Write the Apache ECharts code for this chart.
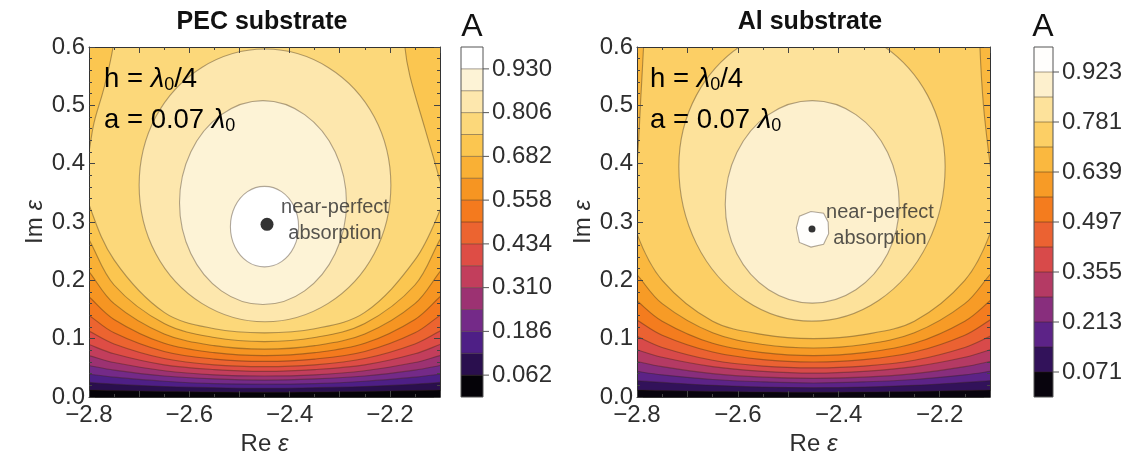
<!DOCTYPE html>
<html><head><meta charset="utf-8">
<script src="https://cdn.jsdelivr.net/npm/echarts@6/dist/echarts.min.js"></script>
<style>html,body{margin:0;padding:0;background:#fff}#c{width:1132px;height:463px}</style>
</head><body><div id="c"></div>
<script>
// ---------------- data ----------------
const reRange = [-2.8, -2.1];
const imRange = [0, 0.6];
const titles = ['PEC substrate', 'Al substrate'];

// contour levels (colour-bar boundaries)
const pecLevels = [0.062,0.124,0.186,0.248,0.310,0.372,0.434,0.496,0.558,0.620,0.682,0.744,0.806,0.868,0.930];
const pecMax = 0.992;
const alLevels = [0.071,0.142,0.213,0.284,0.355,0.426,0.497,0.568,0.639,0.710,0.781,0.852,0.923];
const alMax = 0.994;

// lower (open) contour branches: Im eps at these Re eps positions
const lowX = [-2.86,-2.8,-2.75,-2.65,-2.55,-2.45,-2.35,-2.25,-2.15,-2.1,-2.04];
const pecLowY = [
  [0.014,0.012,0.011,0.0095,0.0085,0.008,0.0085,0.0095,0.011,0.012,0.014],
  [0.029,0.025,0.022,0.018,0.016,0.015,0.016,0.018,0.022,0.025,0.029],
  [0.046,0.039,0.034,0.027,0.023,0.022,0.023,0.027,0.034,0.039,0.046],
  [0.064,0.054,0.046,0.036,0.031,0.029,0.031,0.036,0.046,0.054,0.064],
  [0.085,0.071,0.059,0.045,0.038,0.036,0.038,0.045,0.059,0.071,0.085],
  [0.110,0.090,0.074,0.055,0.047,0.044,0.047,0.055,0.074,0.090,0.110],
  [0.140,0.113,0.091,0.066,0.055,0.052,0.055,0.066,0.091,0.113,0.140],
  [0.175,0.140,0.110,0.078,0.065,0.061,0.065,0.078,0.110,0.140,0.175],
  [0.220,0.172,0.133,0.092,0.076,0.071,0.076,0.092,0.133,0.172,0.220],
  [0.280,0.215,0.160,0.108,0.088,0.082,0.088,0.108,0.160,0.215,0.280],
  [0.360,0.270,0.192,0.126,0.102,0.095,0.102,0.126,0.192,0.270,0.360]
];
const alLowY = [
  [0.014,0.012,0.011,0.0095,0.0085,0.008,0.0085,0.0095,0.011,0.012,0.014],
  [0.033,0.028,0.025,0.020,0.017,0.016,0.017,0.020,0.025,0.028,0.033],
  [0.052,0.044,0.038,0.030,0.026,0.024,0.026,0.030,0.038,0.044,0.052],
  [0.073,0.061,0.052,0.040,0.034,0.032,0.034,0.040,0.052,0.061,0.073],
  [0.098,0.081,0.068,0.052,0.044,0.041,0.044,0.052,0.068,0.081,0.098],
  [0.128,0.104,0.085,0.063,0.053,0.050,0.053,0.063,0.085,0.104,0.128],
  [0.165,0.132,0.106,0.077,0.064,0.060,0.064,0.077,0.106,0.132,0.165],
  [0.210,0.165,0.130,0.092,0.076,0.071,0.076,0.092,0.130,0.165,0.210],
  [0.270,0.210,0.160,0.110,0.090,0.084,0.090,0.110,0.160,0.210,0.270]
];

// upper (closed or partly closed) contours, traced as [Re eps, Im eps]
const pec744 = [[-2.75,0.64],[-2.752,0.6],[-2.77,0.53],[-2.79,0.47],[-2.80,0.42],[-2.81,0.375],[-2.80,0.33],[-2.75,0.235],[-2.65,0.145],[-2.55,0.117],[-2.45,0.110],[-2.35,0.117],[-2.25,0.145],[-2.15,0.235],[-2.10,0.32],[-2.095,0.345],[-2.10,0.37],[-2.13,0.46],[-2.16,0.55],[-2.17,0.6],[-2.17,0.64]];
const pec806 = [[-2.198,0.363],[-2.231,0.480],[-2.323,0.565],[-2.449,0.5965],[-2.575,0.565],[-2.667,0.480],[-2.700,0.363],[-2.667,0.246],[-2.575,0.1605],[-2.449,0.129],[-2.323,0.1605],[-2.231,0.246]];
const pec868 = [[-2.2865,0.333],[-2.309,0.420],[-2.370,0.484],[-2.453,0.508],[-2.536,0.484],[-2.597,0.420],[-2.6195,0.333],[-2.597,0.246],[-2.536,0.182],[-2.453,0.1585],[-2.370,0.182],[-2.309,0.246]];
const pec930 = [[-2.382,0.292],[-2.391,0.3265],[-2.416,0.352],[-2.450,0.361],[-2.484,0.352],[-2.509,0.3265],[-2.518,0.292],[-2.509,0.2575],[-2.484,0.232],[-2.450,0.223],[-2.416,0.232],[-2.391,0.2575]];

const al710 = [[-2.785,0.64],[-2.787,0.6],[-2.792,0.52],[-2.80,0.40],[-2.81,0.34],[-2.80,0.28],[-2.75,0.200],[-2.65,0.130],[-2.55,0.107],[-2.45,0.100],[-2.35,0.107],[-2.25,0.130],[-2.15,0.200],[-2.10,0.28],[-2.09,0.34],[-2.10,0.40],[-2.113,0.5],[-2.12,0.6],[-2.12,0.64]];
const al781 = [[-2.189,0.395],[-2.224,0.5175],[-2.321,0.607],[-2.453,0.640],[-2.585,0.607],[-2.682,0.5175],[-2.717,0.395],[-2.682,0.2625],[-2.585,0.1655],[-2.453,0.130],[-2.321,0.1655],[-2.224,0.2625]];
const al852 = [[-2.280,0.33],[-2.303,0.419],[-2.366,0.484],[-2.4525,0.508],[-2.539,0.484],[-2.602,0.419],[-2.625,0.33],[-2.602,0.2455],[-2.539,0.184],[-2.4525,0.161],[-2.366,0.184],[-2.303,0.2455]];
const al923 = [[-2.421,0.30],[-2.43,0.315],[-2.455,0.318],[-2.478,0.31],[-2.484,0.29],[-2.478,0.265],[-2.455,0.257],[-2.43,0.262],[-2.42,0.28]];

// near-perfect absorption points
const pecDot = [-2.445, 0.296];
const alDot = [-2.453, 0.288];

// ---------------- styling ----------------
const FONT = '"Liberation Sans", Arial, Helvetica, sans-serif';
const TXT = '#2e2e2e';
const stops = [[0,'#000000'],[0.031,'#050308'],[0.094,'#2a0f4e'],[0.156,'#4e1f86'],[0.219,'#742a88'],[0.281,'#9c3272'],
  [0.344,'#c23e5c'],[0.406,'#de4d45'],[0.469,'#ec6430'],[0.531,'#f47a1e'],[0.594,'#f69522'],[0.656,'#f9b035'],
  [0.719,'#fbc650'],[0.781,'#fcd87a'],[0.844,'#fde7ad'],[0.906,'#fdf3d6'],[0.969,'#ffffff'],[1,'#ffffff']];
function hex(h){return [1,3,5].map(i=>parseInt(h.substr(i,2),16));}
function sunset(t){
  for(let i=1;i<stops.length;i++){
    if(t<=stops[i][0]){
      const a=stops[i-1], b=stops[i]; const f=(t-a[0])/(b[0]-a[0]);
      const ca=hex(a[1]), cb=hex(b[1]);
      return 'rgb('+ca.map((v,j)=>Math.round(v+(cb[j]-v)*f)).join(',')+')';
    }
  }
  return '#ffffff';
}
function bandColors(n){const r=[];for(let k=0;k<n;k++)r.push(sunset((k+0.5)/n));return r;}
const pecBands = bandColors(pecLevels.length+1);
const alBands = bandColors(alLevels.length+1);

function buildPolys(lowY, upper, upperSmooth){
  const polys=[];
  lowY.forEach(row=>{
    const pts=lowX.map((x,j)=>[x,row[j]]);
    pts.push([lowX[lowX.length-1],0.75]); pts.push([lowX[0],0.75]);
    polys.push({pts, smooth:0.35});
  });
  upper.forEach((pts,k)=>polys.push({pts, smooth:upperSmooth[k]}));
  return polys;
}
const pecPolys = buildPolys(pecLowY,[pec744,pec806,pec868,pec930],[0.35,0.36,0.36,0.36]);
const alPolys = buildPolys(alLowY,[al710,al781,al852,al923],[0.35,0.36,0.36,0]);

function contourSeries(polys, bands, ax){
  return {
    type:'custom', xAxisIndex:ax, yAxisIndex:ax, clip:true, silent:true, z:2,
    data: polys.map((p,i)=>i),
    renderItem:(params, api)=>{
      const p=polys[params.dataIndex];
      return {type:'polygon', shape:{points:p.pts.map(q=>api.coord(q)), smooth:p.smooth},
        style:{fill:bands[params.dataIndex+1], stroke:'rgba(50,35,20,0.38)', lineWidth:1.1}};
    }
  };
}
function bgSeries(bands, ax){
  return {type:'custom', xAxisIndex:ax, yAxisIndex:ax, clip:true, silent:true, z:1, data:[0],
    renderItem:(params, api)=>{
      const a=api.coord([reRange[0],imRange[1]]), b=api.coord([reRange[1],imRange[0]]);
      return {type:'rect', shape:{x:a[0],y:a[1],width:b[0]-a[0],height:b[1]-a[1]}, style:{fill:bands[0]}};
    }};
}
function barSeries(levels, max, bands, ax){
  const lo=k=>k===0?0:levels[k-1], hi=k=>k===levels.length?max:levels[k];
  return [
    {type:'custom', xAxisIndex:ax, yAxisIndex:ax, silent:true, z:2, data:bands.map((b,i)=>i),
      renderItem:(params, api)=>{
        const k=params.dataIndex; const a=api.coord([0,hi(k)]), b=api.coord([1,lo(k)]);
        return {type:'rect', shape:{x:a[0],y:a[1],width:b[0]-a[0],height:b[1]-a[1]}, style:{fill:bands[k]}};
      }},
    {type:'custom', xAxisIndex:ax, yAxisIndex:ax, silent:true, z:3, data:levels.map((l,i)=>i),
      renderItem:(params, api)=>{
        const k=params.dataIndex; const a=api.coord([0,levels[k]]), b=api.coord([1,levels[k]]);
        const ch=[{type:'line', shape:{x1:a[0],y1:a[1],x2:b[0],y2:b[1]}, style:{stroke:'rgba(50,35,20,0.45)', lineWidth:1}}];
        if(k%2===0) ch.push({type:'line', shape:{x1:b[0],y1:b[1],x2:b[0]+6,y2:b[1]}, style:{stroke:'#555', lineWidth:1}});
        return {type:'group', children:ch};
      }},
    {type:'custom', xAxisIndex:ax, yAxisIndex:ax, silent:true, z:4, data:[0],
      renderItem:(params, api)=>{
        const a=api.coord([0,max]), b=api.coord([1,0]);
        return {type:'rect', shape:{x:a[0],y:a[1],width:b[0]-a[0],height:b[1]-a[1]}, style:{fill:'none', stroke:'#555', lineWidth:1}};
      }}
  ];
}
function dotSeries(dot, size, ax){
  return {type:'scatter', xAxisIndex:ax, yAxisIndex:ax, z:6, silent:true, data:[dot], symbolSize:size,
    itemStyle:{color:'#000'},
    label:{show:true, formatter:'near-perfect\nabsorption', position:'inside', offset:[68,-4], align:'center',
      fontSize:20, lineHeight:26, color:'#2a2a2a', fontFamily:FONT}};
}

const tickStyle = {color:'#444', width:1};
function mainAxes(grid){
  const richName = {a:{fontSize:24,color:TXT,fontFamily:FONT}, e:{fontSize:24,color:TXT,fontFamily:FONT,fontStyle:'italic'}};
  const common = {type:'value', gridIndex:grid, z:10, splitLine:{show:false},
    axisLine:{show:true, onZero:false, lineStyle:{color:'#333', width:1}},
    axisTick:{show:true, inside:true, length:6, lineStyle:tickStyle}};
  const xb = Object.assign({}, common, {min:reRange[0], max:reRange[1], interval:0.1, position:'bottom',
    minorTick:{show:true, splitNumber:2, length:3, lineStyle:tickStyle},
    axisLabel:{fontSize:24, color:TXT, fontFamily:FONT, margin:6,
      formatter:v=>{const k=Math.round(v*10); return (k%2===0 && k!==-21)? v.toFixed(1).replace('-','\u2212'):'';}},
    name:'{a|Re }{e|\u03b5}', nameLocation:'middle', nameGap:31, nameTextStyle:{rich:richName}});
  const xt = Object.assign({}, common, {min:reRange[0], max:reRange[1], interval:0.1, position:'top',
    minorTick:{show:true, splitNumber:2, length:3, lineStyle:tickStyle}, axisLabel:{show:false}});
  const yl = Object.assign({}, common, {min:imRange[0], max:imRange[1], interval:0.1, position:'left',
    minorTick:{show:true, splitNumber:5, length:3, lineStyle:tickStyle},
    axisLabel:{fontSize:24, color:TXT, fontFamily:FONT, margin:4, formatter:v=>v.toFixed(1)},
    name:'{a|Im }{e|\u03b5}', nameLocation:'middle', nameRotate:90, nameGap:42, nameTextStyle:{rich:richName}});
  const yr = Object.assign({}, common, {min:imRange[0], max:imRange[1], interval:0.1, position:'right',
    minorTick:{show:true, splitNumber:5, length:3, lineStyle:tickStyle}, axisLabel:{show:false}});
  return {x:[xb,xt], y:[yl,yr]};
}
function barAxes(grid, max, step){
  return {
    x:{type:'value', gridIndex:grid, min:0, max:1, show:false},
    y:{type:'value', gridIndex:grid, min:0, max:max, interval:step, position:'right',
      axisLine:{show:false}, axisTick:{show:false}, splitLine:{show:false},
      axisLabel:{fontSize:24, color:TXT, fontFamily:FONT, margin:9,
        formatter:v=>{const k=Math.round(v/step); return k%2===1? v.toFixed(3):'';}}}
  };
}

const pA = mainAxes(0), pB = barAxes(1, pecMax, 0.062), aA = mainAxes(2), aB = barAxes(3, alMax, 0.071);
const xAxis = [pA.x[0], pA.x[1], pB.x, aA.x[0], aA.x[1], aB.x];
const yAxis = [pA.y[0], pA.y[1], pB.y, aA.y[0], aA.y[1], aB.y];

function annot(x){
  const rich = {t:{fontSize:27.5,color:'#1a1a1a',fontFamily:FONT,lineHeight:31},
                l:{fontSize:27.5,color:'#1a1a1a',fontFamily:FONT,fontStyle:'italic',lineHeight:31},
                s:{fontSize:18,color:'#1a1a1a',fontFamily:FONT,verticalAlign:'bottom',lineHeight:18}};
  return [
    {type:'text', z:20, style:{text:'{t|h = }{l|\u03bb}{s|0}{t|/4}', rich, x:x, y:79, verticalAlign:'middle'}},
    {type:'text', z:20, style:{text:'{t|a = 0.07 }{l|\u03bb}{s|0}', rich, x:x, y:120, verticalAlign:'middle'}}
  ];
}
const graphic = [
  {type:'text', z:20, style:{text:titles[0], x:262, y:22, align:'center', verticalAlign:'middle', fontSize:25, fontWeight:'bold', fontFamily:FONT, fill:'#111'}},
  {type:'text', z:20, style:{text:titles[1], x:810, y:22, align:'center', verticalAlign:'middle', fontSize:25, fontWeight:'bold', fontFamily:FONT, fill:'#111'}},
  {type:'text', z:20, style:{text:'A', x:472, y:27, align:'center', verticalAlign:'middle', fontSize:32, fontFamily:FONT, fill:'#111'}},
  {type:'text', z:20, style:{text:'A', x:1043, y:27, align:'center', verticalAlign:'middle', fontSize:32, fontFamily:FONT, fill:'#111'}}
].concat(annot(104), annot(650));

const option = {
  animation:false,
  backgroundColor:'#ffffff',
  grid:[
    {left:89, top:47, width:351, height:350},
    {left:461, top:47, width:22, height:350},
    {left:637, top:47, width:353, height:350},
    {left:1034, top:47, width:19, height:350}
  ],
  xAxis, yAxis, graphic,
  series:[
    bgSeries(pecBands,0), contourSeries(pecPolys, pecBands, 0), dotSeries(pecDot, 13, 0),
    ...barSeries(pecLevels, pecMax, pecBands, 2),
    bgSeries(alBands,3), contourSeries(alPolys, alBands, 3), dotSeries(alDot, 7, 3),
    ...barSeries(alLevels, alMax, alBands, 5)
  ]
};
const chart = echarts.init(document.getElementById('c'), null, {renderer:'canvas', devicePixelRatio:1});
chart.setOption(option);
</script></body></html>
